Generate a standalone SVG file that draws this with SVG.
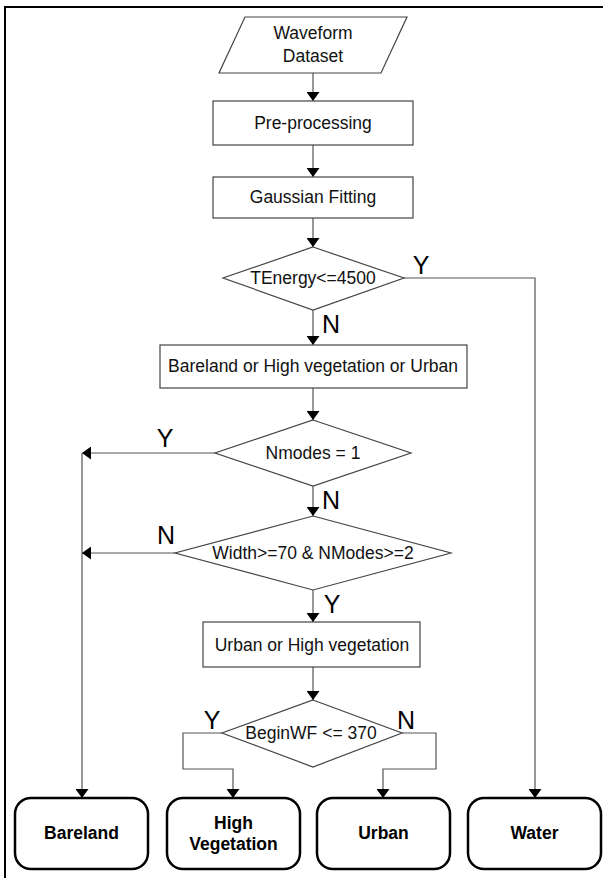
<svg xmlns="http://www.w3.org/2000/svg" width="603" height="878" viewBox="0 0 603 878">
<defs>
<marker id="ah" markerWidth="9" markerHeight="13" refX="9" refY="6.5" orient="auto" markerUnits="userSpaceOnUse" viewBox="0 0 9 13">
<path d="M0,0 L9,6.5 L0,13 Z" fill="#000"/>
</marker>
</defs>
<style>
.n{fill:#fff;stroke:#444;stroke-width:1.2}
.t{fill:#fff;stroke:#000;stroke-width:2.5}
.c{fill:none;stroke:#555;stroke-width:1.2}
.a{marker-end:url(#ah)}
text{font-family:"Liberation Sans",Arial,sans-serif;fill:#111;text-anchor:middle}
.lb{font-size:17.5px}
.bd{font-size:17.5px;font-weight:bold;fill:#000}
.yn{font-size:25px;fill:#000}
</style>
<rect x="0" y="0" width="603" height="878" fill="#fff"/>
<rect x="5" y="7" width="640" height="900" fill="none" stroke="#000" stroke-width="2"/>

<g id="connectors">
<path class="c a" d="M313,73 V101"/>
<path class="c a" d="M313,145 V177"/>
<path class="c a" d="M313,218 V247"/>
<path class="c a" d="M404,278 H535 V798"/>
<path class="c a" d="M313,310 V345"/>
<path class="c a" d="M313,388 V420"/>
<path class="c a" d="M215,453 H82"/>
<path class="c a" d="M82,453 V798"/>
<path class="c a" d="M313,486 V516"/>
<path class="c a" d="M175,553 H82"/>
<path class="c a" d="M313,590 V622"/>
<path class="c a" d="M313,667 V700"/>
<path class="c a" d="M222,733 H183 V769 H233 V798"/>
<path class="c a" d="M402,733 H436 V769 H383 V798"/>
<text class="yn" x="421" y="274">Y</text>
<text class="yn" x="331" y="333">N</text>
<text class="yn" x="165" y="447">Y</text>
<text class="yn" x="331" y="509">N</text>
<text class="yn" x="166" y="544">N</text>
<text class="yn" x="332" y="613">Y</text>
<text class="yn" x="212" y="729">Y</text>
<text class="yn" x="406" y="729">N</text>
</g>

<g id="waveform">
<polygon class="n" points="245,17 407,17 381,73 219,73"/>
<text class="lb" x="313" y="39">Waveform</text>
<text class="lb" x="313" y="62">Dataset</text>
</g>
<g id="preprocessing">
<rect class="n" x="213" y="101" width="200" height="44"/>
<text class="lb" x="313" y="129">Pre-processing</text>
</g>
<g id="gaussian">
<rect class="n" x="213" y="177" width="200" height="41"/>
<text class="lb" x="313" y="203">Gaussian Fitting</text>
</g>
<g id="tenergy">
<polygon class="n" points="313,247 404,278 313,310 223,278"/>
<text class="lb" x="313" y="284">TEnergy&lt;=4500</text>
</g>
<g id="bhu">
<rect class="n" x="160" y="345" width="307" height="43"/>
<text class="lb" x="313" y="372">Bareland or High vegetation or Urban</text>
</g>
<g id="nmodes">
<polygon class="n" points="313,420 411,453 313,486 215,453"/>
<text class="lb" x="313" y="459">Nmodes = 1</text>
</g>
<g id="width">
<polygon class="n" points="313,516 451,553 313,590 175,553"/>
<text class="lb" x="313" y="559">Width&gt;=70 &amp; NModes&gt;=2</text>
</g>
<g id="uhv">
<rect class="n" x="203" y="622" width="217" height="45"/>
<text class="lb" x="312" y="651">Urban or High vegetation</text>
</g>
<g id="beginwf">
<polygon class="n" points="313,700 402,733 313,767 222,733"/>
<text class="lb" x="311" y="739">BeginWF &lt;= 370</text>
</g>
<g id="bareland">
<rect class="t" x="15" y="798" width="133" height="71" rx="16"/>
<text class="bd" x="81.5" y="839">Bareland</text>
</g>
<g id="highveg">
<rect class="t" x="167" y="798" width="133" height="71" rx="16"/>
<text class="bd" x="233.5" y="829">High</text>
<text class="bd" x="233.5" y="850">Vegetation</text>
</g>
<g id="urban">
<rect class="t" x="317" y="798" width="133" height="71" rx="16"/>
<text class="bd" x="383.5" y="839">Urban</text>
</g>
<g id="water">
<rect class="t" x="468" y="798" width="133" height="71" rx="16"/>
<text class="bd" x="534.5" y="839">Water</text>
</g>
</svg>
